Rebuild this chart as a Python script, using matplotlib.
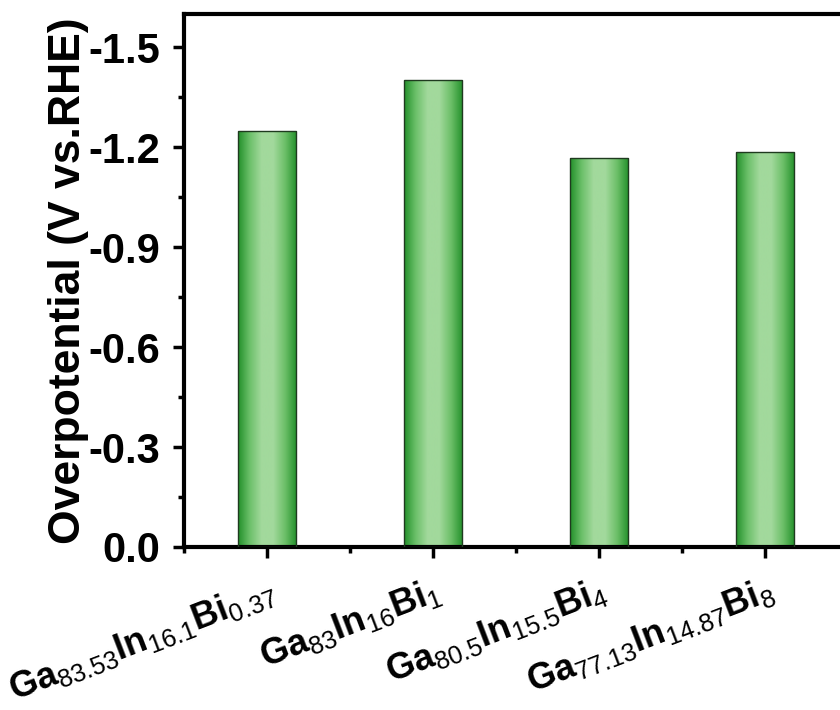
import numpy as np
import matplotlib
matplotlib.use("Agg")
import matplotlib.pyplot as plt
from matplotlib.colors import LinearSegmentedColormap
import matplotlib.transforms as mtransforms

plt.rcParams['font.family'] = ['Liberation Sans', 'DejaVu Sans']
plt.rcParams['font.weight'] = 'bold'
plt.rcParams['mathtext.fontset'] = 'custom'
plt.rcParams['mathtext.rm'] = 'Liberation Sans:weight=normal'
plt.rcParams['mathtext.bf'] = 'Liberation Sans:weight=bold'
plt.rcParams['mathtext.it'] = 'Liberation Sans:italic:weight=normal'

# ── Données ───────────────────────────────────────────────────────────────────
samples = [
    r"$\mathbf{Ga}_{83.53}\mathbf{In}_{16.1}\mathbf{Bi}_{0.37}$",
    r"$\mathbf{Ga}_{83}\mathbf{In}_{16}\mathbf{Bi}_{1}$",
    r"$\mathbf{Ga}_{80.5}\mathbf{In}_{15.5}\mathbf{Bi}_{4}$",
    r"$\mathbf{Ga}_{77.13}\mathbf{In}_{14.87}\mathbf{Bi}_{8}$",
]
overpotential = [-1.248, -1.401, -1.167, -1.185]
yticks = [0.0, -0.3, -0.6, -0.9, -1.2, -1.5]

# ── Figure ────────────────────────────────────────────────────────────────────
fig = plt.figure(figsize=(8.4, 7.1), dpi=100)
ax = fig.add_axes([184/840, 163/710, 664/840, 533/710])

x = np.arange(1, len(samples) + 1)
bars = ax.bar(x, overpotential, width=0.35, color="none",
              edgecolor="#1f3a1f", linewidth=1.0, zorder=3)

cmap = LinearSegmentedColormap.from_list(
    "grn", ["#22902a", "#6cc06a", "#a2d99c", "#a2d99c", "#6cbf68", "#22902a"])
grad = np.linspace(0, 1, 256).reshape(1, -1)
for b in bars:
    x0, w = b.get_x(), b.get_width()
    y0, h = b.get_y(), b.get_height()
    im = ax.imshow(grad, cmap=cmap, aspect="auto",
                   extent=[x0, x0 + w, y0, y0 + h], origin="lower", zorder=2)
    im.set_clip_path(b)

ax.set_xlim(0.5, 4.5)
ax.set_ylim(0.0, -1.6)

ax.set_yticks(yticks)
ax.set_yticklabels([f"{t:.1f}" for t in yticks])
ax.set_yticks([-0.15, -0.45, -0.75, -1.05, -1.35], minor=True)
ax.set_xticks(x)
ax.set_xticks([0.5, 1.5, 2.5, 3.5, 4.5], minor=True)

ax.set_xticklabels(samples, rotation=21, ha="right", va="top",
                   rotation_mode="anchor", fontsize=26)
offset = mtransforms.ScaledTranslation(37/100, -11/100, fig.dpi_scale_trans)
for lab in ax.get_xticklabels():
    lab.set_transform(lab.get_transform() + offset)

ax.tick_params(axis="both", which="major", direction="out", length=8,
               width=2.5)
ax.tick_params(axis="y", which="major", labelsize=30, pad=9)
ax.tick_params(axis="x", which="major", pad=10)
ax.tick_params(axis="both", which="minor", direction="out", length=4,
               width=2.5)
for lab in ax.get_yticklabels():
    lab.set_fontweight("bold")

for sp in ax.spines.values():
    sp.set_linewidth(3)

ax.set_ylabel("Overpotential (V vs.RHE)", fontsize=32, fontweight="bold",
              labelpad=0)

fig.savefig("out.png", dpi=100)
